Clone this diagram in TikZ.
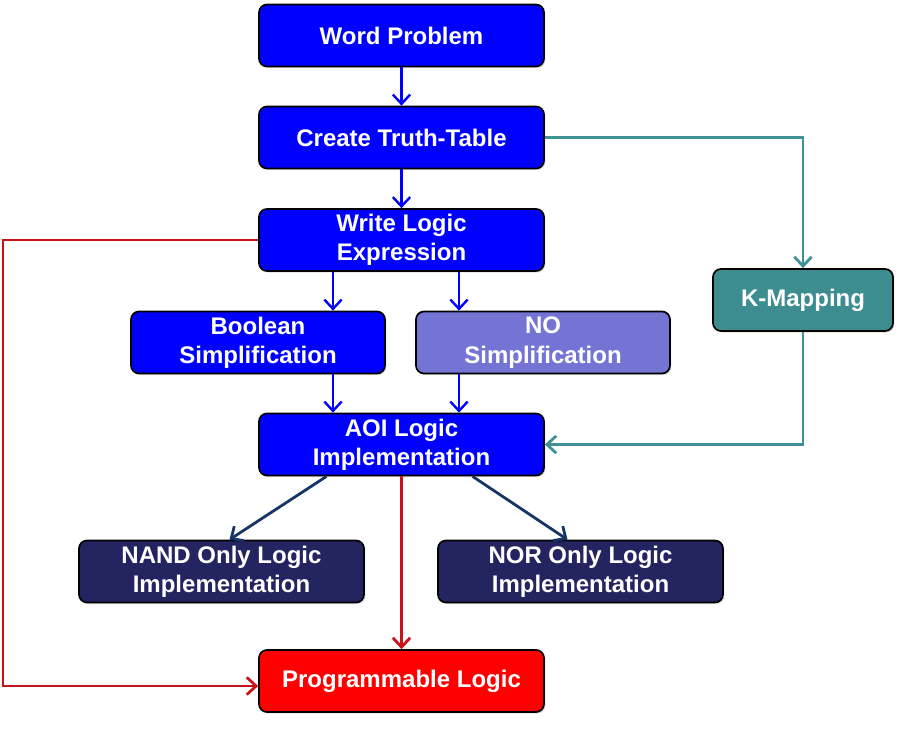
\documentclass[tikz,border=0pt]{standalone}
\usepackage{fontspec}
\setmainfont{Liberation Sans}
\usepackage{tikz}
\usetikzlibrary{arrows.meta,calc,shadows}

\definecolor{boxblue}{RGB}{0,0,255}
\definecolor{nobox}{RGB}{116,116,212}
\definecolor{kteal}{RGB}{61,140,143}
\definecolor{navybox}{RGB}{36,36,96}
\definecolor{progred}{RGB}{255,0,0}
\definecolor{tealline}{RGB}{64,145,150}
\definecolor{redline}{RGB}{200,20,24}
\definecolor{navyline}{RGB}{22,52,102}

\tikzset{
  stepbox/.style={draw=black, line width=1.3pt, rounded corners=6pt, text=white,
    font=\bfseries\fontsize{18}{22}\selectfont, align=center,
    minimum width=213.75pt, minimum height=46.5pt, inner sep=0pt,
    drop shadow={shadow xshift=1pt, shadow yshift=-1.2pt, opacity=0.25}},
  blarr/.style={draw=boxblue, line width=1.8pt, -{Straight Barb[length=7pt,width=13pt]}},
  tlarr/.style={draw=tealline, line width=2.1pt, -{Straight Barb[length=7pt,width=13pt]}},
  rdarr/.style={draw=redline, line width=2.1pt, -{Straight Barb[length=7pt,width=13pt]}},
  nvarr/.style={draw=navyline, line width=2.1pt, -{Straight Barb[length=7pt,width=13pt]}}
}

\begin{document}
\begin{tikzpicture}[x=0.75pt,y=0.75pt,yscale=-1,xscale=1]
\useasboundingbox (0,0) rectangle (900,740);

%Shape: Rounded Rect [id:word]
\node[stepbox, fill=boxblue] (word) at (401.5,35.5) {Word Problem};
%Shape: Rounded Rect [id:truth]
\node[stepbox, fill=boxblue] (truth) at (401.5,137.5) {Create Truth-Table};
%Shape: Rounded Rect [id:expr]
\node[stepbox, fill=boxblue] (expr) at (401.5,240) {Write Logic\\Expression};
%Shape: Rounded Rect [id:bool]
\node[stepbox, fill=boxblue, minimum width=190.5pt] (bool) at (258,342.5) {Boolean\\Simplification};
%Shape: Rounded Rect [id:nosimp]
\node[stepbox, fill=nobox, minimum width=190.5pt] (nosimp) at (543,342.5) {NO\\Simplification};
%Shape: Rounded Rect [id:kmap]
\node[stepbox, fill=kteal, minimum width=135pt] (kmap) at (803,300) {K-Mapping};
%Shape: Rounded Rect [id:aoi]
\node[stepbox, fill=boxblue] (aoi) at (401.5,444.5) {AOI Logic\\Implementation};
%Shape: Rounded Rect [id:nand]
\node[stepbox, fill=navybox] (nand) at (221.5,571.5) {NAND Only Logic\\Implementation};
%Shape: Rounded Rect [id:nor]
\node[stepbox, fill=navybox] (nor) at (580.5,571.5) {NOR Only Logic\\Implementation};
%Shape: Rounded Rect [id:prog]
\node[stepbox, fill=progred] (prog) at (401.5,681) {Programmable Logic};

%Coordinates for the split arrows
\coordinate (lx) at (333,0);
\coordinate (rx) at (459,0);
\coordinate (redx) at (3,0);

%Straight Lines [id:word-truth]
\draw[blarr] (word) -- (truth);
%Straight Lines [id:truth-expr]
\draw[blarr] (truth) -- (expr);
%Straight Lines [id:expr-bool]
\draw[blarr] (expr.south -| lx) -- (bool.north -| lx);
%Straight Lines [id:expr-nosimp]
\draw[blarr] (expr.south -| rx) -- (nosimp.north -| rx);
%Straight Lines [id:bool-aoi]
\draw[blarr] (bool.south -| lx) -- (aoi.north -| lx);
%Straight Lines [id:nosimp-aoi]
\draw[blarr] (nosimp.south -| rx) -- (aoi.north -| rx);
%Straight Lines [id:truth-kmap]
\draw[tlarr] (truth.east) -| (kmap.north);
%Straight Lines [id:kmap-aoi]
\draw[tlarr] (kmap.south) |- (aoi.east);
%Straight Lines [id:aoi-nand]
\draw[nvarr] ($(aoi.south)+(-75,0)$) -- ($(nand.north)+(8,0)$);
%Straight Lines [id:aoi-nor]
\draw[nvarr] ($(aoi.south)+(71,0)$) -- ($(nor.north)+(-13,0)$);
%Straight Lines [id:aoi-prog]
\draw[rdarr] (aoi) -- (prog);
%Straight Lines [id:expr-prog]
\draw[rdarr] (expr.west) -- (expr.west -| redx) |- ($(prog.west)+(0,5)$);

\end{tikzpicture}
\end{document}
